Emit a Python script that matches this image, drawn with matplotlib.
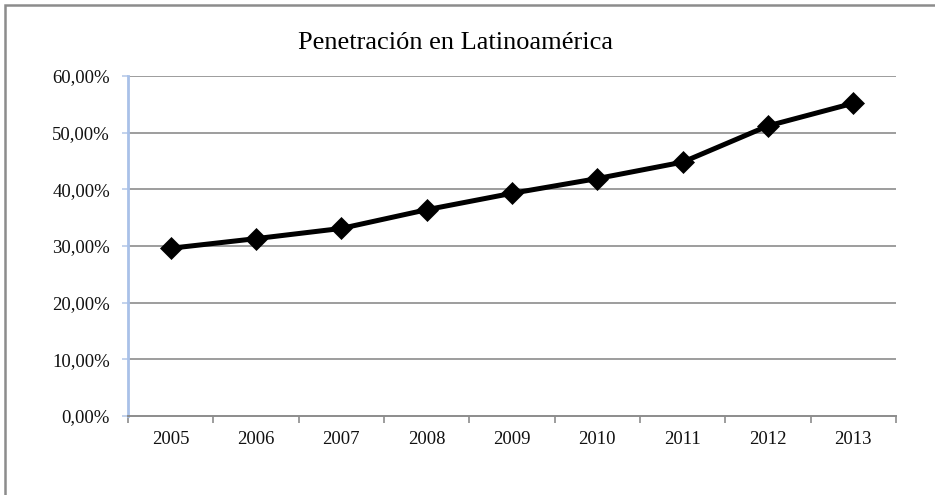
import numpy as np
import matplotlib.pyplot as plt
from matplotlib.patches import Rectangle
from matplotlib.ticker import FixedLocator, NullFormatter

years = ['2005', '2006', '2007', '2008', '2009', '2010', '2011', '2012', '2013']
penetration = [29.6, 31.3, 33.1, 36.4, 39.3, 41.9, 44.8, 51.2, 55.2]
y_ticks = [0, 10, 20, 30, 40, 50, 60]
y_labels = ['0,00%', '10,00%', '20,00%', '30,00%', '40,00%', '50,00%', '60,00%']
title = 'Penetración en Latinoamérica'

plt.rcParams['font.family'] = ['Liberation Serif', 'DejaVu Serif']

fig = plt.figure(figsize=(9.35, 4.95), dpi=100)

# chart border (right and bottom edges fall outside the picture)
fig.patches.append(Rectangle((5 / 935, -0.1), 1.2, 1 - 5 / 495 + 0.1,
                             transform=fig.transFigure, fill=False,
                             edgecolor='#8c8c8c', lw=1.8))

ax = fig.add_axes([128 / 935, 1 - 416 / 495, (896 - 128) / 935, (416 - 76) / 495])

x = np.arange(len(years))
ax.plot(x, penetration, color='black', lw=3.6, marker='D', ms=11,
        mec='black', mew=0.5, zorder=5, solid_joinstyle='round')

ax.set_xlim(-0.5, len(years) - 0.5)
ax.set_ylim(0, 60)

# gridlines
for v in y_ticks[1:]:
    ax.axhline(v, color='#8c8c8c', lw=1.2, zorder=1)

ax.set_yticks(y_ticks)
ax.set_yticklabels(y_labels, fontsize=13.5, color='#111111')
ax.tick_params(axis='y', length=4, width=1.2, color='#b9cbe9', pad=9)

ax.xaxis.set_major_locator(FixedLocator(np.arange(-0.5, len(years), 1)))
ax.xaxis.set_major_formatter(NullFormatter())
ax.xaxis.set_minor_locator(FixedLocator(x))
ax.set_xticklabels(years, minor=True, fontsize=13.5, color='#111111')
ax.tick_params(axis='x', which='major', length=5, width=1.2, color='#8c8c8c')
ax.tick_params(axis='x', which='minor', length=0, pad=10.5)

for s in ['top', 'right']:
    ax.spines[s].set_visible(False)
ax.spines['left'].set_color('#a9c1e8')
ax.spines['left'].set_linewidth(2)
ax.spines['bottom'].set_color('#8c8c8c')
ax.spines['bottom'].set_linewidth(1.4)

fig.text(455 / 935, 1 - 43 / 495, title, ha='center', va='center', fontsize=19)

fig.savefig('out.png', dpi=100)
